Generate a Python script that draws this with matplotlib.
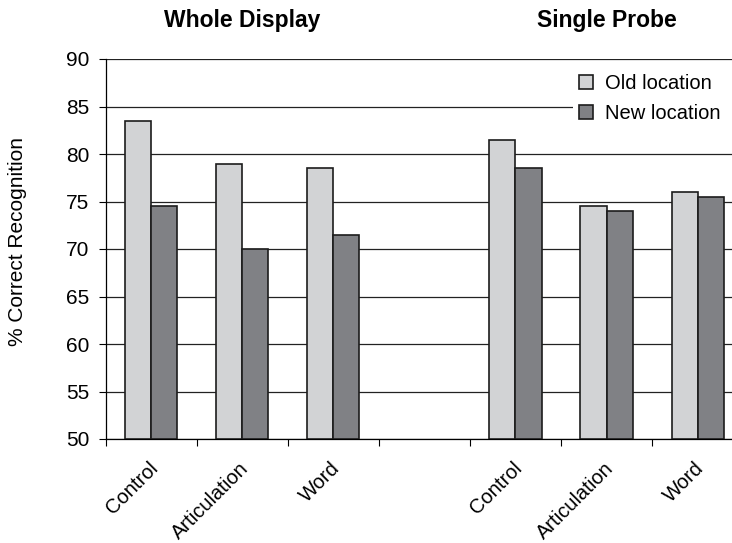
import matplotlib
matplotlib.use("Agg")
import matplotlib.pyplot as plt
import matplotlib.transforms as mtransforms
import numpy as np

plt.rcParams['font.family'] = ['Liberation Sans', 'DejaVu Sans']

# ---- data ----
groups = ['Whole Display', 'Single Probe']
conditions = ['Control', 'Articulation', 'Word']
old_whole = [83.5, 79.0, 78.5]
new_whole = [74.5, 70.0, 71.5]
old_single = [81.5, 74.5, 76.0]
new_single = [78.5, 74.0, 75.5]
series_labels = ['Old location', 'New location']
yticks = [50, 55, 60, 65, 70, 75, 80, 85, 90]

# ---- style ----
c_old = '#d2d3d5'
c_new = '#808185'
edge = '#1c1c1c'
bar_w = 0.286

fig = plt.figure(figsize=(7.32, 5.43), dpi=100)
ax = fig.add_axes([105.5 / 732, 1 - 439 / 543, 637.7 / 732, 380 / 543])

n = len(conditions)
x_whole = np.arange(n)
x_single = np.arange(n) + n + 1
old_vals = list(old_whole) + list(old_single)
new_vals = list(new_whole) + list(new_single)
xs = np.concatenate([x_whole, x_single])

ax.bar(xs - bar_w / 2, np.array(old_vals) - 50, bottom=50, width=bar_w, color=c_old,
       edgecolor=edge, linewidth=1.2, label=series_labels[0], zorder=3)
ax.bar(xs + bar_w / 2, np.array(new_vals) - 50, bottom=50, width=bar_w, color=c_new,
       edgecolor=edge, linewidth=1.2, label=series_labels[1], zorder=3)

total = 2 * n + 1
ax.set_xlim(-0.5, total - 0.5)
ax.set_ylim(50, 90)
ax.set_yticks(yticks)
ax.tick_params(axis='y', direction='out', length=5, width=0.8, pad=6.5,
               labelsize=15, colors='black')

# major ticks at category boundaries, labels at centres
ax.set_xticks(np.arange(total + 1) - 0.5)
ax.set_xticklabels([])
ax.set_xticks(xs, minor=True)
ax.set_xticklabels(conditions + conditions, minor=True)
ax.tick_params(axis='x', which='major', direction='out', length=5, width=0.8)
ax.tick_params(axis='x', which='minor', length=0, pad=14, labelsize=14.5)
offset = mtransforms.ScaledTranslation(-0.03, 0, fig.dpi_scale_trans)
for lab in ax.get_xticklabels(minor=True):
    lab.set_rotation(45)
    lab.set_ha('right')
    lab.set_rotation_mode('anchor')
    lab.set_transform(lab.get_transform() + offset)

ax.yaxis.grid(True, color='#222222', linewidth=0.9)
ax.set_axisbelow(True)
for s in ['top', 'right']:
    ax.spines[s].set_visible(False)
for s in ['left', 'bottom']:
    ax.spines[s].set_linewidth(0.9)
    ax.spines[s].set_color('black')

ax.set_ylabel('% Correct Recognition', fontsize=15, va='center')
ax.yaxis.set_label_coords(18 / 732, 1 - 241 / 543, transform=fig.transFigure)

# group titles above middle category of each group
tr = mtransforms.blended_transform_factory(ax.transData, fig.transFigure)
ax.text(x_whole[1], 1 - 21 / 543, groups[0], transform=tr, ha='center', va='center',
        fontsize=16.5, fontweight='bold')
ax.text(x_single[1], 1 - 21 / 543, groups[1], transform=tr, ha='center', va='center',
        fontsize=16.5, fontweight='bold')

leg = ax.legend(loc='upper left', bbox_to_anchor=(573 / 732, 1 - 68 / 543, 175 / 732, 0),
                bbox_transform=fig.transFigure, borderaxespad=0, borderpad=0.3,
                mode='expand', fontsize=14.5, handlelength=0.7, handleheight=0.7,
                handletextpad=0.6, labelspacing=0.55, frameon=True, fancybox=False)
leg.get_frame().set_facecolor('white')
leg.get_frame().set_edgecolor('none')
leg.get_frame().set_alpha(1)
leg.set_zorder(5)

fig.savefig('out.png', dpi=100)
